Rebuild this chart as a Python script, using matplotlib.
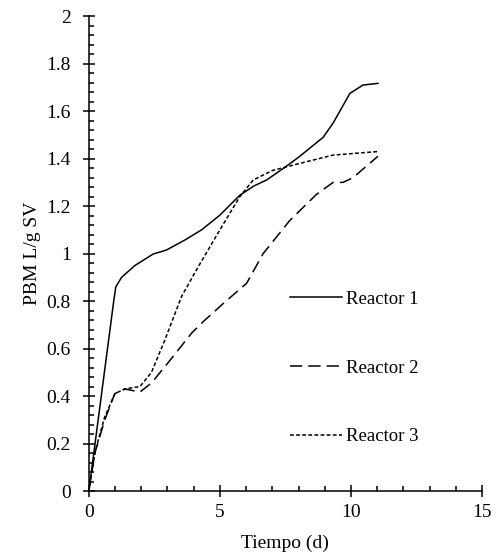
import matplotlib
matplotlib.use("Agg")
import matplotlib.pyplot as plt
from matplotlib.ticker import MultipleLocator

plt.rcParams["font.family"] = ["Liberation Serif", "DejaVu Serif"]

# valores
t_r1 = [0, 0.95, 1.03, 1.25, 1.76, 2.45, 2.96, 3.66, 4.3, 5.0, 5.76, 6.3, 6.78,
        7.5, 8.05, 8.94, 9.32, 9.96, 10.46, 11.03]
pbm_r1 = [0, 0.80, 0.86, 0.90, 0.95, 0.998, 1.015, 1.057, 1.10, 1.162, 1.246,
          1.285, 1.31, 1.365, 1.41, 1.49, 1.55, 1.675, 1.71, 1.717]

t_r2 = [0, 0.23, 0.61, 0.99, 1.37, 1.95, 2.39, 3.02, 3.92, 4.36, 5.13, 6.02,
        6.65, 7.67, 8.69, 9.32, 9.7, 10.08, 11.03]
pbm_r2 = [0, 0.16, 0.30, 0.41, 0.43, 0.417, 0.455, 0.54, 0.665, 0.713, 0.79,
          0.875, 1.0, 1.14, 1.25, 1.30, 1.30, 1.32, 1.41]

t_r3 = [0, 0.25, 0.6, 0.99, 1.37, 1.95, 2.39, 2.9, 3.54, 4.17, 5.0, 5.76, 6.27,
        7.0, 8.05, 9.32, 11.03]
pbm_r3 = [0, 0.17, 0.31, 0.41, 0.43, 0.44, 0.50, 0.636, 0.82, 0.944, 1.10,
          1.24, 1.31, 1.35, 1.38, 1.415, 1.43]

labels = ["Reactor 1", "Reactor 2", "Reactor 3"]

fig = plt.figure(figsize=(4.99, 5.58), dpi=100)
ax = fig.add_axes([0.178, 0.12, 0.788, 0.851])

ax.plot(t_r1, pbm_r1, color="black", lw=1.1, ls="-", label=labels[0])
ax.plot(t_r2, pbm_r2, color="black", lw=1.1, ls=(0, (8, 4)), label=labels[1])
ax.plot(t_r3, pbm_r3, color="black", lw=1.1, ls=(0, (2.5, 1.5)), label=labels[2])

ax.set_xlim(0, 15)
ax.set_ylim(0, 2)
ax.xaxis.set_major_locator(MultipleLocator(5))
ax.xaxis.set_minor_locator(MultipleLocator(1))
ax.yaxis.set_major_locator(MultipleLocator(0.2))
ax.yaxis.set_minor_locator(MultipleLocator(0.04))
ax.yaxis.set_major_formatter(plt.FuncFormatter(lambda v, p: f"{v:g}"))

for s in ["top", "right"]:
    ax.spines[s].set_visible(False)
for s in ["left", "bottom"]:
    ax.spines[s].set_linewidth(1.1)
ax.tick_params(which="major", direction="inout", length=8, width=1.1,
               labelsize=14)
ax.tick_params(axis="y", which="major", pad=9)
ax.tick_params(axis="x", which="major", pad=5)
ax.tick_params(which="minor", direction="in", length=3.5, width=1.1)

ax.set_xlabel("Tiempo (d)", fontsize=14, labelpad=10)
ax.set_ylabel("PBM L/g SV", fontsize=14, labelpad=4)

ax.legend(loc="center left", bbox_to_anchor=(0.511, 0.259), frameon=False,
          fontsize=13.5, handlelength=2.8, handletextpad=0.2, labelspacing=2.75,
          borderpad=0, borderaxespad=0)

plt.savefig("out.png", dpi=100)
plt.close()
